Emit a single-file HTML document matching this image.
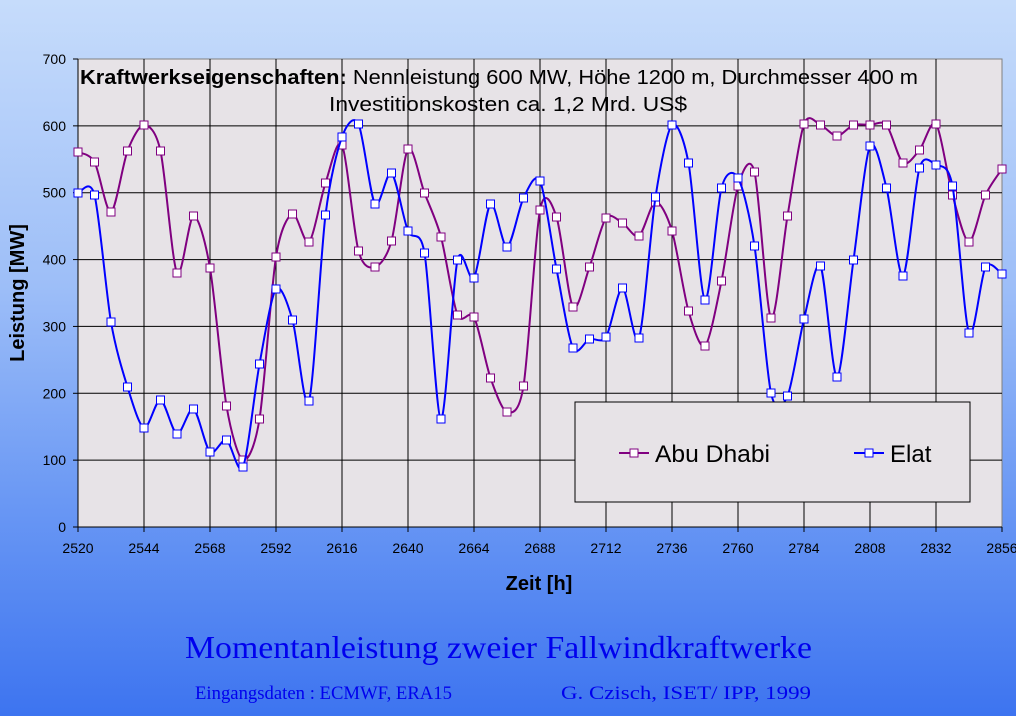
<!DOCTYPE html>
<html><head><meta charset="utf-8"><style>
html,body{margin:0;padding:0}
body{width:1016px;height:716px;overflow:hidden;background:linear-gradient(to bottom,#c6dcfb 0%,#9dbef8 40%,#6a98f4 70%,#3d74f0 100%);font-family:"Liberation Sans",sans-serif}
svg{position:absolute;left:0;top:0}
</style></head><body>
<svg id="s" width="1016" height="716" xmlns="http://www.w3.org/2000/svg">
<rect x="78" y="59" width="924" height="468" fill="#e7e3e7" stroke="#808080" stroke-width="1"/>
<g id="grid" stroke="#000" stroke-width="1"></g>
<g font-size="14" fill="#000" id="ticks"></g>
<text x="80" y="84" font-size="20" fill="#000" textLength="838" lengthAdjust="spacingAndGlyphs"><tspan font-weight="bold">Kraftwerkseigenschaften:</tspan> Nennleistung 600 MW, Höhe 1200 m, Durchmesser 400 m</text>
<text x="329" y="111" font-size="20" fill="#000" textLength="358" lengthAdjust="spacingAndGlyphs">Investitionskosten ca. 1,2 Mrd. US$</text>
<g id="series"></g>
<rect x="575" y="402" width="395" height="100" fill="#e7e3e7" stroke="#000" stroke-width="1"/>
<line x1="619" y1="453" x2="649" y2="453" stroke="#800080" stroke-width="2"/>
<rect x="630" y="449" width="8" height="8" fill="#fff" stroke="#800080"/>
<text x="655" y="462" font-size="24" textLength="115" lengthAdjust="spacingAndGlyphs">Abu Dhabi</text>
<line x1="854" y1="453" x2="884" y2="453" stroke="#0000ff" stroke-width="2"/>
<rect x="865" y="449" width="8" height="8" fill="#fff" stroke="#0000ff"/>
<text x="890" y="462" font-size="24">Elat</text>
<text x="539" y="590" font-size="20" font-weight="bold" text-anchor="middle">Zeit [h]</text>
<text transform="translate(24,293) rotate(-90)" font-size="20" font-weight="bold" text-anchor="middle">Leistung [MW]</text>
<text x="185" y="658" font-size="32" fill="#0000ee" textLength="627" lengthAdjust="spacingAndGlyphs" font-family="Liberation Serif, serif">Momentanleistung zweier Fallwindkraftwerke</text>
<text x="195" y="699" font-size="19" fill="#0000ee" textLength="257" lengthAdjust="spacingAndGlyphs" font-family="Liberation Serif, serif">Eingangsdaten : ECMWF, ERA15</text>
<text x="561" y="699" font-size="19" fill="#0000ee" textLength="250" lengthAdjust="spacingAndGlyphs" font-family="Liberation Serif, serif">G. Czisch, ISET/ IPP, 1999</text>
</svg>
<script>
var NS="http://www.w3.org/2000/svg";
function el(t,a,p){var e=document.createElementNS(NS,t);for(var k in a)e.setAttribute(k,a[k]);p.appendChild(e);return e;}
var g=document.getElementById('grid'),tk=document.getElementById('ticks');
for(var v=0;v<=700;v+=100){var y=527-v*468/700;
 if(v>0&&v<700)el('line',{x1:78,x2:1002,y1:y,y2:y},g);
 el('line',{x1:73,x2:78,y1:y,y2:y},g);
 var t=el('text',{x:66,y:y+5,'text-anchor':'end'},tk);t.textContent=v;}
for(var h=2520;h<=2856;h+=24){var x=78+(h-2520)*2.75;
 if(h>2520&&h<2856)el('line',{x1:x,x2:x,y1:59,y2:527},g);
 el('line',{x1:x,x2:x,y1:527,y2:532},g);
 var t=el('text',{x:x,y:553,'text-anchor':'middle'},tk);t.textContent=h;}
el('line',{x1:78,x2:1002,y1:527,y2:527},g);el('line',{x1:78,x2:78,y1:59,y2:527},g);
var A=[152,162,212,151,125,151,273,216,268,406,460,419,257,214,242,183,145,251,267,241,149,193,237,315,317,378,412,386,210,217,307,267,218,223,236,202,231,311,346,281,186,172,318,216,124,125,136,125,125,125,163,150,124,195,242,195,169];
var E=[193,195,322,387,428,400,434,409,452,440,467,364,289,320,401,215,137,124,204,173,231,253,419,260,278,204,247,198,181,269,348,339,337,288,338,197,125,163,300,188,178,246,393,396,319,266,377,260,146,188,276,168,165,186,333,267,274];
function draw(Y,c){var s=document.getElementById('series');var P=Y.map(function(y,i){return [78+i*16.5,y];});
 var k=1/7;
 var d="M"+P[0][0]+","+P[0][1];
 for(var i=0;i<P.length-1;i++){var p0=P[Math.max(0,i-1)],p1=P[i],p2=P[i+1],p3=P[Math.min(P.length-1,i+2)];
  d+=" C"+(p1[0]+(p2[0]-p0[0])*k)+","+(p1[1]+(p2[1]-p0[1])*k)+" "+(p2[0]-(p3[0]-p1[0])*k)+","+(p2[1]-(p3[1]-p1[1])*k)+" "+p2[0]+","+p2[1];}
 el('path',{d:d,fill:'none',stroke:c,'stroke-width':2},s);
 P.forEach(function(p){el('rect',{x:p[0]-4,y:p[1]-4,width:8,height:8,fill:'#fff',stroke:c,'stroke-width':1},s);});}
draw(A,'#800080');draw(E,'#0000ff');
</script>
</body></html>
